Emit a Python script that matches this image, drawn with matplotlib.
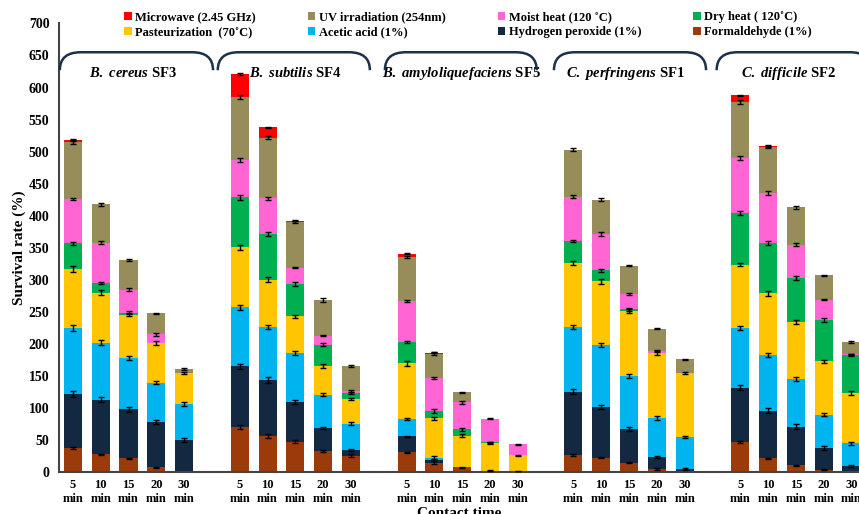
import numpy as np
import matplotlib
matplotlib.use("Agg")
import matplotlib.pyplot as plt
from matplotlib.patches import Patch, PathPatch
from matplotlib.path import Path

plt.rcParams['font.family'] = 'Liberation Serif'
plt.rcParams['font.weight'] = 'bold'
plt.rcParams['mathtext.fontset'] = 'custom'
plt.rcParams['mathtext.it'] = 'Liberation Serif:italic:bold'
plt.rcParams['mathtext.rm'] = 'Liberation Serif:bold'

# groups of strains, 5 contact times each
strains = [r'$\mathit{B.\ cereus}$ SF3', r'$\mathit{B.\ subtilis}$ SF4',
           r'$\mathit{B.\ amyloliquefaciens}$ SF5', r'$\mathit{C.\ perfringens}$ SF1',
           r'$\mathit{C.\ difficile}$ SF2']
times = ['5\nmin', '10\nmin', '15\nmin', '20\nmin', '30\nmin']

# survival rate (%) per treatment, order: strain by strain, 5 times each
formaldehyde = [38, 28, 22, 8, 0,  70, 56, 48, 33, 26,  31, 15, 8, 2.5, 0.5,  27, 23, 15, 5, 0,  47, 22, 11, 4, 0]
h2o2 = [84, 85, 76, 71, 50,  95, 88, 61, 36, 9,  25, 4, 0, 0, 0,  99, 79, 52, 19, 5,  85, 74, 60, 34, 10]
acetic = [103, 89, 80, 61, 57,  92, 83, 77, 52, 41,  27, 4, 0, 0, 0,  100, 96, 83, 61, 50,  93, 87, 74, 52, 35]
pasteur = [92, 78, 68, 62, 48,  94, 73, 57, 45, 38,  87, 61, 49, 43, 26,  100, 100, 102, 101, 100,  99, 96, 89, 83, 79]
dryheat = [40, 15, 3, 0, 0,  78, 72, 51, 33, 10,  33, 12, 10, 1, 0,  35, 17, 2, 0, 0,  81, 78, 69, 65, 59]
moist = [69, 63, 36, 13, 0,  58, 55, 25, 14, 3,  64, 51, 42, 37, 17,  69, 57, 24, 3, 0,  85, 78, 52, 31, 1]
uv = [89, 60, 46, 33, 6,  98, 95, 72, 56, 39,  69, 38, 16, 0, 0,  73, 53, 44, 35, 21,  88, 72, 58, 38, 19]
microwave = [3, 0, 0, 0, 0,  36, 16, 1, 0, 0,  5, 1.5, 0, 0, 0,  0, 0, 0, 0, 0,  10, 2, 0, 0, 0]

# error bars (approx.)
err_form = [2, 1, 1, 1, 0,  3, 3, 3, 2, 2,  1, 2, 1, 1, 1,  1, 1, 1, 1, 0,  2, 1, 1, 1, 0]
err_h2o2 = [5, 4, 4, 3, 3,  4, 4, 3, 2, 1,  1, 1, 0, 0, 0,  4, 3, 3, 2, 1,  4, 4, 4, 3, 1]
err_acet = [5, 4, 3, 3, 3,  4, 3, 3, 2, 2,  1, 2, 0, 0, 0,  3, 3, 3, 3, 2,  3, 3, 3, 2, 2]
err_past = [4, 4, 3, 3, 2,  4, 4, 3, 3, 2,  4, 2, 2, 2, 1,  3, 4, 3, 3, 2,  3, 4, 3, 2, 3]
err_dry = [2, 2, 2, 0, 0,  4, 3, 3, 2, 2,  2, 3, 2, 1, 0,  2, 2, 2, 0, 0,  3, 3, 3, 3, 2]
err_moist = [2, 2, 2, 2, 0,  3, 2, 1, 1, 1,  2, 2, 2, 1, 1,  3, 3, 2, 2, 0,  3, 3, 2, 1, 1]
err_uv = [3, 2, 2, 1, 1,  3, 3, 3, 3, 2,  2, 2, 1, 1, 1,  2, 2, 1, 1, 1,  3, 2, 2, 1, 1]
err_mw = [2, 0, 0, 0, 0,  2, 1, 0, 0, 0,  1, 1, 0, 0, 0,  0, 0, 0, 0, 0,  1, 2, 0, 0, 0]

series = [
    ('Formaldehyde (1%)', formaldehyde, err_form, '#9c3a0a'),
    ('Hydrogen peroxide (1%)', h2o2, err_h2o2, '#132841'),
    ('Acetic acid (1%)', acetic, err_acet, '#00b4f0'),
    ('Pasteurization  (70˚C)', pasteur, err_past, '#ffc600'),
    ('Dry heat ( 120˚C)', dryheat, err_dry, '#00b050'),
    ('Moist heat (120 ˚C)', moist, err_moist, '#ff66d4'),
    ('UV irradiation (254nm)', uv, err_uv, '#978d5a'),
    ('Microwave (2.45 GHz)', microwave, err_mw, '#ff0000'),
]

# bracket extents over each strain group (in bar-slot units) and label spots
brace_start = [-0.47, 5.21, 11.22, 17.3, 23.15]
brace_end = [5.04, 10.68, 16.68, 22.77, 28.7]
label_x = [2.15, 8.0, 13.96, 19.86, 25.75]

x = np.array([g * 6 + i for g in range(len(strains)) for i in range(len(times))])

fig = plt.figure(figsize=(8.59, 5.14), dpi=100)
ax = fig.add_axes([0.069, 0.0811, 0.931, 0.8734])

bottom = np.zeros(len(x))
handles = {}
for name, vals, errs, col in series:
    vals = np.array(vals, dtype=float)
    ax.bar(x, vals, 0.65, bottom=bottom, color=col, edgecolor='none', zorder=2)
    top = bottom + vals
    m = vals > 0
    ax.errorbar(x[m], top[m], yerr=np.array(errs)[m], fmt='none', ecolor='black',
                elinewidth=1.0, capsize=2.5, capthick=1.0, zorder=5)
    bottom = top
    handles[name] = Patch(facecolor=col, edgecolor='none', label=name)

# curved brackets + strain labels
ytop, ylow, cw = 655, 627, 0.75
for s, e, lx, lab in zip(brace_start, brace_end, label_x, strains):
    verts = [(s, ylow), (s, ytop), (s + cw, ytop), (e - cw, ytop), (e, ytop), (e, ylow)]
    codes = [Path.MOVETO, Path.CURVE3, Path.CURVE3, Path.LINETO, Path.CURVE3, Path.CURVE3]
    ax.add_patch(PathPatch(Path(verts, codes), facecolor='none', edgecolor='#1d3049',
                           linewidth=1.8, clip_on=False, zorder=4))
    ax.text(lx, 622, lab, ha='center', va='center', fontsize=10.5, fontweight='bold')

ax.set_xlim(-0.49, 28.27)
ax.set_ylim(0, 700)
ax.set_yticks(np.arange(0, 701, 50))
ax.set_xticks(x)
ax.set_xticklabels(times * len(strains), fontsize=9, fontweight='bold', linespacing=1.15)
ax.tick_params(axis='x', length=0, pad=5)
ax.tick_params(axis='y', length=0, pad=7, labelsize=10)
for lbl in ax.get_yticklabels():
    lbl.set_fontweight('bold')
for sp in ['top', 'right']:
    ax.spines[sp].set_visible(False)
for sp in ['left', 'bottom']:
    ax.spines[sp].set_color('#444444')
    ax.spines[sp].set_linewidth(1.5)

ax.set_ylabel('Survival rate (%)', fontsize=11, fontweight='bold', labelpad=2)
fig.text(0.535, 0.014, 'Contact time', ha='center', va='top', fontsize=11, fontweight='bold')

order = ['Microwave (2.45 GHz)', 'Pasteurization  (70˚C)', 'UV irradiation (254nm)', 'Acetic acid (1%)',
         'Moist heat (120 ˚C)', 'Hydrogen peroxide (1%)', 'Dry heat ( 120˚C)', 'Formaldehyde (1%)']
fig.legend([handles[k] for k in order], order, ncol=4, loc='upper left',
           bbox_to_anchor=(124 / 859, 1 - 11 / 514), frameon=False, borderpad=0, borderaxespad=0,
           handlelength=0.6, handleheight=0.6, handletextpad=0.3, columnspacing=4.15,
           labelspacing=0.25, prop={'family': 'Liberation Serif', 'weight': 'bold', 'size': 9})

fig.savefig('out.png', dpi=100)
